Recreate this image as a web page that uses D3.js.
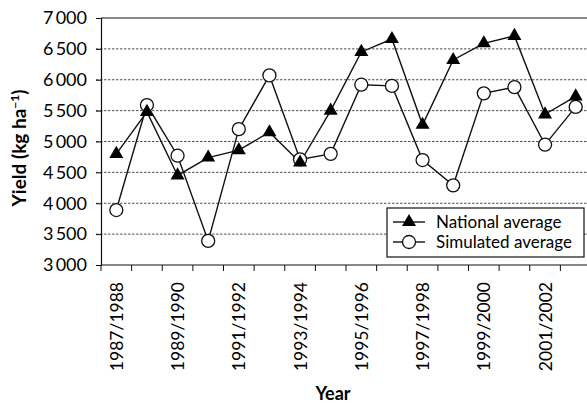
<!DOCTYPE html>
<html>
<head>
<meta charset="utf-8">
<script src="https://cdn.jsdelivr.net/npm/d3@7"></script>
<style>
  html, body { margin: 0; padding: 0; background: #fff; }
  svg { display: block; }
  text { font-family: Lato, "Open Sans", sans-serif; fill: #000; }
</style>
</head>
<body>
<div id="chart"></div>
<script>
"use strict";

// Seasons along the x axis
let years = ["1987/1988", "1988/1989", "1989/1990", "1990/1991", "1991/1992", "1992/1993",
    "1993/1994", "1994/1995", "1995/1996", "1996/1997", "1997/1998", "1998/1999",
    "1999/2000", "2000/2001", "2001/2002", "2002/2003"];

// Yield, kg/ha
let nationalAvg = [4800, 5480, 4450, 4740, 4860, 5150, 4660, 5500, 6450, 6660, 5270, 6320, 6590, 6710, 5440, 5730];
let simulatedAvg = [3890, 5590, 4770, 3390, 5200, 6070, 4710, 4800, 5920, 5900, 4700, 4290, 5780, 5880, 4950, 5560];

let yTicks = [3000, 3500, 4000, 4500, 5000, 5500, 6000, 6500, 7000];
let xLabelled = ["1987/1988", "1989/1990", "1991/1992", "1993/1994", "1995/1996", "1997/1998", "1999/2000", "2001/2002"];

let width = 587,
    height = 404,
    margin = { top: 18, right: -4, bottom: 139, left: 101 };

let svg = d3.select("#chart").append("svg")
    .attr("width", width)
    .attr("height", height);

let plotW = width - margin.left - margin.right,
    plotH = height - margin.top - margin.bottom;

let g = svg.append("g")
    .attr("transform", "translate(" + margin.left + "," + margin.top + ")");

let x = d3.scaleBand().domain(years).range([0, plotW]);
let y = d3.scaleLinear().domain([3000, 7000]).range([plotH, 0]);

let fmt = d => d3.format(",")(d).replace(",", "\u2009");

// dashed gridlines
g.append("g")
    .selectAll("line")
    .data(yTicks.filter(d => d > 3000 && d < 7000))
    .enter().append("line")
    .attr("x1", -5).attr("x2", plotW)
    .attr("y1", d => y(d)).attr("y2", d => y(d))
    .attr("stroke", "#222")
    .attr("stroke-width", 0.8)
    .attr("stroke-dasharray", "2.5,1.5");

// top border
g.append("line")
    .attr("x1", 0).attr("x2", plotW)
    .attr("y1", 0).attr("y2", 0)
    .attr("stroke", "#111").attr("stroke-width", 1.2);

// y axis
let yAxis = g.append("g")
    .call(d3.axisLeft(y).tickValues(yTicks).tickSize(5).tickPadding(9).tickFormat(fmt));
yAxis.select(".domain").attr("stroke", "#111").attr("stroke-width", 1.2);
yAxis.selectAll(".tick line").attr("stroke", "#111");
yAxis.selectAll("text").attr("font-size", 18).attr("fill", "#000").attr("font-family", "Lato, sans-serif");

// x axis: ticks between categories
let bounds = years.map(d => x(d));
let xAxis = g.append("g").attr("transform", "translate(0," + plotH + ")");
xAxis.append("line")
    .attr("x1", 0).attr("x2", plotW)
    .attr("stroke", "#111").attr("stroke-width", 1.2);
xAxis.selectAll(".xtick")
    .data(bounds)
    .enter().append("line")
    .attr("class", "xtick")
    .attr("x1", d => d).attr("x2", d => d)
    .attr("y1", 0).attr("y2", 6)
    .attr("stroke", "#111");
xAxis.selectAll(".xlab")
    .data(xLabelled)
    .enter().append("text")
    .attr("class", "xlab")
    .attr("transform", d => "translate(" + (x(d) + x.bandwidth() / 2 + 6.5) + ",17) rotate(-90)")
    .attr("text-anchor", "end")
    .attr("font-size", 17.5)
    .text(d => d);

// axis titles
svg.append("text")
    .attr("transform", "translate(26,148) rotate(-90)")
    .attr("text-anchor", "middle")
    .attr("font-size", 19)
    .attr("font-weight", "bold")
    .text("Yield (kg ha")
    .append("tspan").attr("baseline-shift", "super").attr("font-size", 12).text("\u22121")
    .select(function () { return this.parentNode; })
    .append("tspan").text(")");

svg.append("text")
    .attr("x", 333).attr("y", 400)
    .attr("text-anchor", "middle")
    .attr("font-size", 18)
    .attr("font-weight", "bold")
    .text("Year");

// series
let cx = (d, i) => x(years[i]) + x.bandwidth() / 2;
let line = d3.line().x(cx).y(d => y(d));

g.append("path").datum(nationalAvg)
    .attr("d", line).attr("fill", "none").attr("stroke", "#111").attr("stroke-width", 1.4);
g.append("path").datum(simulatedAvg)
    .attr("d", line).attr("fill", "none").attr("stroke", "#111").attr("stroke-width", 1.4);

let tri = d3.symbol().type(d3.symbolTriangle).size(85);

g.selectAll(".sim")
    .data(simulatedAvg)
    .enter().append("circle")
    .attr("class", "sim")
    .attr("cx", cx).attr("cy", d => y(d))
    .attr("r", 6.5)
    .attr("fill", "#fff").attr("stroke", "#111").attr("stroke-width", 1.3);

g.selectAll(".nat")
    .data(nationalAvg)
    .enter().append("path")
    .attr("class", "nat")
    .attr("transform", (d, i) => "translate(" + cx(d, i) + "," + y(d) + ")")
    .attr("d", tri)
    .attr("fill", "#000");

// legend
let leg = svg.append("g").attr("transform", "translate(387,208)");
leg.append("rect")
    .attr("width", 197).attr("height", 49)
    .attr("fill", "#fff").attr("stroke", "#111").attr("stroke-width", 1.2);
let legItems = [
    { label: "National average", marker: "tri" },
    { label: "Simulated average", marker: "circle" }
];
legItems.forEach((it, i) => {
    let yy = 14 + i * 20;
    leg.append("line").attr("x1", 6).attr("x2", 38).attr("y1", yy).attr("y2", yy)
        .attr("stroke", "#111").attr("stroke-width", 1.4);
    if (it.marker === "tri") {
        leg.append("path").attr("transform", "translate(22," + yy + ")").attr("d", tri).attr("fill", "#000");
    } else {
        leg.append("circle").attr("cx", 22).attr("cy", yy).attr("r", 6.5)
            .attr("fill", "#fff").attr("stroke", "#111").attr("stroke-width", 1.3);
    }
    leg.append("text").attr("x", 49).attr("y", yy + 6)
        .attr("font-size", 17).text(it.label);
});
</script>
</body>
</html>
